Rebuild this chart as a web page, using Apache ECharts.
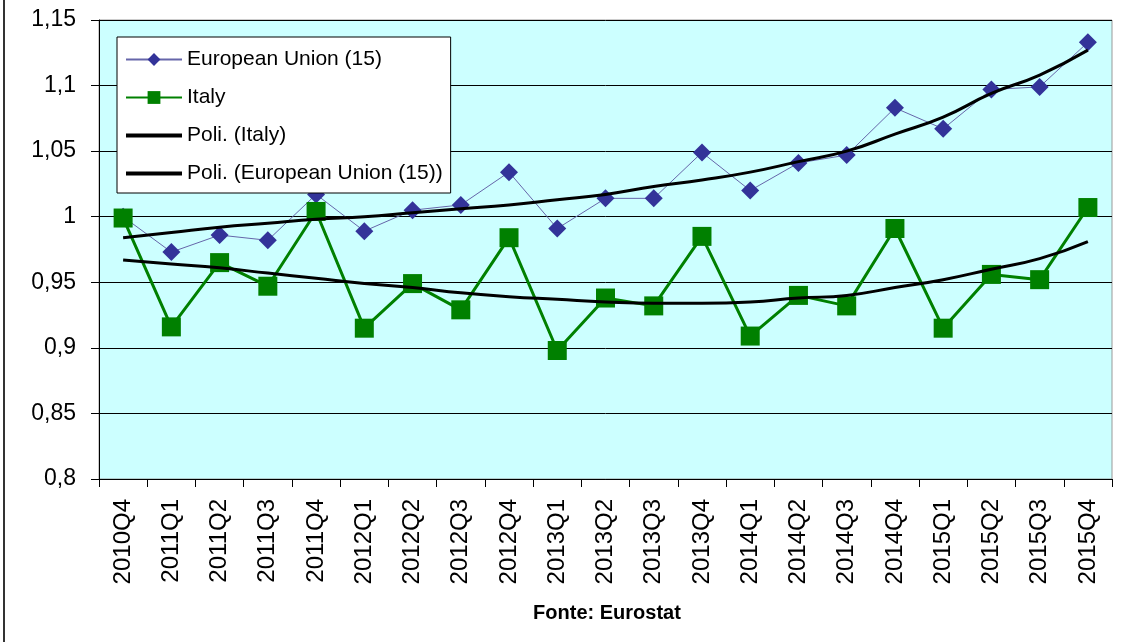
<!DOCTYPE html>
<html>
<head>
<meta charset="utf-8">
<script src="https://cdn.jsdelivr.net/npm/echarts@6/dist/echarts.min.js"></script>
<style>
  html, body { margin: 0; padding: 0; background: #fff; }
  #main { width: 1147px; height: 642px; }
</style>
</head>
<body>
<div id="main"></div>
<script>
// quarters on the x axis
const quarters = ['2010Q4','2011Q1','2011Q2','2011Q3','2011Q4','2012Q1','2012Q2','2012Q3','2012Q4',
  '2013Q1','2013Q2','2013Q3','2013Q4','2014Q1','2014Q2','2014Q3','2014Q4','2015Q1','2015Q2','2015Q3','2015Q4'];

// values (index, 2010Q4 = 1)
const euValues = [1.000, 0.973, 0.986, 0.982, 1.017, 0.989, 1.005, 1.009, 1.034, 0.991, 1.014,
  1.014, 1.049, 1.020, 1.041, 1.047, 1.083, 1.067, 1.097, 1.099, 1.133];
const italyValues = [0.999, 0.916, 0.965, 0.947, 1.004, 0.915, 0.949, 0.929, 0.984, 0.898, 0.938,
  0.932, 0.985, 0.909, 0.940, 0.932, 0.991, 0.915, 0.956, 0.952, 1.007];

// polynomial trend lines as drawn in the picture
const euTrend = [0.984, 0.988, 0.992, 0.995, 0.998, 1.000, 1.003, 1.006, 1.009, 1.013, 1.017,
  1.023, 1.028, 1.034, 1.042, 1.050, 1.063, 1.076, 1.094, 1.108, 1.127];
const italyTrend = [0.967, 0.964, 0.961, 0.957, 0.953, 0.949, 0.946, 0.942, 0.939, 0.937, 0.935,
  0.934, 0.934, 0.935, 0.938, 0.940, 0.946, 0.952, 0.960, 0.968, 0.981];

const seriesNames = ['European Union (15)', 'Italy', 'Poli. (Italy)', 'Poli. (European Union (15))'];

const font = 'Liberation Sans, Arial, sans-serif';

let myChart = echarts.init(document.getElementById('main'));

let option = {
  animation: false,
  backgroundColor: '#ffffff',
  grid: {
    left: 99,
    right: 35,
    top: 20,
    bottom: 163,
    show: true,
    backgroundColor: '#CCFFFF',
    borderColor: '#999999',
    borderWidth: 1
  },
  legend: {
    data: [
      { name: seriesNames[0] },
      { name: seriesNames[1] },
      { name: seriesNames[2], lineStyle: { width: 4 } },
      { name: seriesNames[3], lineStyle: { width: 4 } }
    ],
    orient: 'vertical',
    left: 117,
    top: 37,
    backgroundColor: '#ffffff',
    borderColor: '#000000',
    borderWidth: 1,
    borderRadius: 0,
    padding: [12, 8, 9, 7],
    itemWidth: 56,
    itemHeight: 16,
    itemGap: 17,
    textStyle: { fontFamily: font, fontSize: 21, color: '#000' }
  },
  xAxis: {
    type: 'category',
    data: quarters,
    boundaryGap: true,
    axisLine: { lineStyle: { color: '#000', width: 1 } },
    axisTick: { show: true, length: 8, interval: 0, lineStyle: { color: '#000' } },
    axisLabel: {
      interval: 0,
      rotate: 90,
      margin: 20,
      fontFamily: font,
      fontSize: 24,
      color: '#000'
    },
    splitLine: { show: false }
  },
  yAxis: {
    type: 'value',
    min: 0.8,
    max: 1.15,
    interval: 0.05,
    axisLine: { show: true, lineStyle: { color: '#000', width: 1 } },
    axisTick: { show: true, length: 8, lineStyle: { color: '#000' } },
    axisLabel: {
      margin: 23,
      fontFamily: font,
      fontSize: 23,
      color: '#000',
      formatter: function (v) {
        return String(+v.toFixed(2)).replace('.', ',');
      }
    },
    splitLine: { show: true, lineStyle: { color: '#000', width: 1 } }
  },
  graphic: [
    {
      type: 'line',
      shape: { x1: 4, y1: 0, x2: 4, y2: 642 },
      style: { stroke: '#333', lineWidth: 2 }
    },
    {
      type: 'text',
      x: 607,
      y: 613,
      style: {
        text: 'Fonte: Eurostat',
        fontFamily: font,
        fontSize: 20,
        fontWeight: 'bold',
        fill: '#000',
        textAlign: 'center',
        textVerticalAlign: 'middle'
      }
    }
  ],
  series: [
    {
      name: seriesNames[0],
      type: 'line',
      data: euValues,
      symbol: 'diamond',
      symbolSize: 18,
      itemStyle: { color: '#333399' },
      lineStyle: { color: '#6666aa', width: 1 },
      z: 3
    },
    {
      name: seriesNames[1],
      type: 'line',
      data: italyValues,
      symbol: 'rect',
      symbolSize: 19,
      itemStyle: { color: '#008000' },
      lineStyle: { color: '#008000', width: 3 },
      z: 3
    },
    {
      name: seriesNames[2],
      type: 'line',
      data: italyTrend,
      smooth: true,
      symbol: 'none',
      // transparent item colour so the legend shows only the line
      itemStyle: { color: 'rgba(0,0,0,0)' },
      lineStyle: { color: '#000', width: 3 },
      z: 4
    },
    {
      name: seriesNames[3],
      type: 'line',
      data: euTrend,
      smooth: true,
      symbol: 'none',
      itemStyle: { color: 'rgba(0,0,0,0)' },
      lineStyle: { color: '#000', width: 3 },
      z: 4
    }
  ]
};

myChart.setOption(option);
window.onresize = function () {
  myChart.resize();
};
</script>
</body>
</html>
